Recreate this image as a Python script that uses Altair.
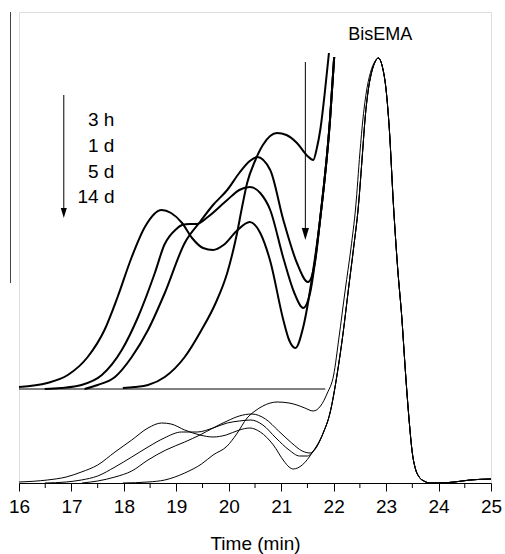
import altair as alt
import pandas as pd

FONT = "Liberation Sans"

# ---------------- lower (full-scale) chromatograms, thin lines ----------------
low_3h_x = [17.98, 18.46, 18.78, 19.16, 19.48, 19.7, 19.97, 20.15, 20.35, 20.5, 20.65, 20.92, 21.15, 21.3, 21.45,
            21.61, 21.75, 21.88, 22.0, 22.1, 22.22, 22.33, 22.42, 22.5, 22.56, 22.63, 22.71, 22.78]
low_3h_y = [0, 1, 3, 10, 19, 28, 37, 49, 65, 72, 77, 81, 80, 78, 75,
            72, 77, 90, 108, 145, 193, 235, 276, 330, 365, 393, 412, 421]

low_1d_x = [17.2, 17.5, 17.83, 18.15, 18.46, 18.8, 19.16, 19.45, 19.7, 19.97, 20.2, 20.44, 20.7, 20.95, 21.2,
            21.4, 21.55, 21.65, 21.8, 21.93]
low_1d_y = [0, 2, 6, 12, 23, 33, 41, 48, 55, 62, 67, 69, 64, 52, 40,
            32, 30, 34, 50, 70]

low_5d_x = [16.49, 16.9, 17.19, 17.5, 17.83, 18.15, 18.46, 18.77, 19.1, 19.4, 19.7, 19.97, 20.2, 20.42, 20.65,
            20.9, 21.15, 21.35, 21.5, 21.6, 21.8, 21.93]
low_5d_y = [0, 1, 3, 7, 16, 26, 36, 45, 51, 51, 55, 60, 62, 63, 58,
            45, 33, 27, 27, 31, 50, 70]

low_14d_x = [16.0, 16.54, 16.9, 17.19, 17.5, 17.83, 18.15, 18.46, 18.72, 18.9, 19.16, 19.45, 19.7, 19.95, 20.2,
             20.4, 20.6, 20.85, 21.05, 21.15, 21.23, 21.4, 21.6, 21.8, 21.93]
low_14d_y = [1, 3, 6, 11, 18, 31, 43, 55, 60, 59, 53, 48, 46, 48, 53,
             55, 51, 38, 22, 16, 14, 18, 31, 50, 70]

# shared rising flank of the BisEMA peak (1 d, 5 d, 14 d)
bis_rise_x = [22.07, 22.18, 22.28, 22.38, 22.47, 22.55, 22.6, 22.66, 22.73, 22.79]
bis_rise_y = [110, 150, 193, 235, 276, 330, 365, 393, 412, 421]

# shared BisEMA apex, falling flank and tail (all four)
bis_fall_x = [22.85, 22.93, 23.0, 23.06, 23.14, 23.22, 23.3, 23.37, 23.44, 23.5, 23.56, 23.63, 23.72, 23.85,
              24.0, 24.3, 24.6, 25.0]
bis_fall_y = [425, 416, 393, 355, 278, 215, 165, 110, 62, 30, 14, 6, 2, 0,
              0, 1, 3, 4]

# ---------------- upper (magnified, offset) traces, thick lines ----------------
up_3h_x = [17.98, 18.2, 18.46, 18.78, 19.16, 19.48, 19.75, 19.97, 20.15, 20.25, 20.35, 20.5, 20.65, 20.92, 21.1,
           21.3, 21.5, 21.61, 21.68, 21.75, 21.83, 21.91]
up_3h_y = [95, 96, 98, 106, 126, 153, 180, 210, 248, 275, 300, 322, 338, 350, 348,
           340, 327, 323, 335, 355, 390, 430]

up_1d_x = [17.25, 17.5, 17.83, 18.15, 18.46, 18.78, 19.16, 19.45, 19.7, 19.97, 20.2, 20.4, 20.54, 20.79, 21.04,
           21.3, 21.51, 21.65, 21.74, 21.93, 22.01]
up_1d_y = [94, 98, 106, 126, 153, 190, 240, 261, 278, 293, 310, 322, 326, 313, 263,
           220, 201, 223, 263, 363, 426]

up_5d_x = [16.49, 16.8, 17.19, 17.58, 17.96, 18.27, 18.59, 18.77, 19.0, 19.11, 19.25, 19.39, 19.6, 19.97, 20.2,
           20.4, 20.6, 20.79, 21.04, 21.25, 21.42, 21.55, 21.74, 21.93, 22.01]
up_5d_y = [94, 95, 98, 108, 133, 166, 210, 238, 254, 258, 259, 259, 266, 283, 293,
           296, 290, 273, 225, 190, 175, 190, 263, 363, 426]

up_14d_x = [16.0, 16.54, 16.93, 17.31, 17.63, 17.88, 18.15, 18.4, 18.72, 18.9, 19.11, 19.3, 19.51, 19.7, 19.9,
            20.15, 20.4, 20.6, 20.79, 21.04, 21.15, 21.27, 21.42, 21.61, 21.74, 21.93, 22.01]
up_14d_y = [96, 100, 108, 126, 153, 186, 226, 256, 273, 270, 260, 245, 235, 233, 238,
            252, 261, 250, 222, 163, 143, 135, 156, 213, 263, 363, 426]

# upper baseline
upper_base_x = [16.0, 21.84]
upper_base_y = [94, 94]

# annotations
time_labels = ["3 h", "1 d", "5 d", "14 d"]
time_label_x = [17.82, 17.82, 17.82, 17.82]
time_label_y = [363, 337, 311, 286]
peak_label = ["BisEMA"]
peak_label_x = [22.89]
peak_label_y = [448]
arrow_x = [16.854, 21.46]
arrow_top = [388, 421]
arrow_tip = [265, 243]
arrow_head_half = [5, 6]
scale_bar_x = [15.838]
scale_bar_y = [200]
scale_bar_y2 = [471]
major_ticks = list(range(16, 26))
minor_ticks = [16.5, 17.5, 18.5, 19.5, 20.5, 21.5, 22.5, 23.5, 24.5]

# ---------------- tables ----------------
def frame(name, xs, ys):
    return pd.DataFrame({"x": xs, "y": ys, "series": name})

lower_df = pd.concat([
    frame("3 h", low_3h_x + bis_fall_x, low_3h_y + bis_fall_y),
    frame("1 d", low_1d_x + bis_rise_x + bis_fall_x, low_1d_y + bis_rise_y + bis_fall_y),
    frame("5 d", low_5d_x + bis_rise_x + bis_fall_x, low_5d_y + bis_rise_y + bis_fall_y),
    frame("14 d", low_14d_x + bis_rise_x + bis_fall_x, low_14d_y + bis_rise_y + bis_fall_y),
], ignore_index=True)

upper_df = pd.concat([
    frame("3 h", up_3h_x, up_3h_y),
    frame("1 d", up_1d_x, up_1d_y),
    frame("5 d", up_5d_x, up_5d_y),
    frame("14 d", up_14d_x, up_14d_y),
], ignore_index=True)

base_df = pd.DataFrame({"x": upper_base_x, "y": upper_base_y})
label_df = pd.DataFrame({"x": time_label_x, "y": time_label_y, "t": time_labels})
peak_df = pd.DataFrame({"x": peak_label_x, "y": peak_label_y, "t": peak_label})
arrow_df = pd.DataFrame({"x": arrow_x, "top": arrow_top, "tip": arrow_tip, "h": arrow_head_half})
arrow_df["stem_end"] = arrow_df["tip"] + arrow_df["h"]
arrow_df["head"] = arrow_df["tip"] + arrow_df["h"]
bar_df = pd.DataFrame({"x": scale_bar_x, "a": scale_bar_y, "b": scale_bar_y2})
minor_df = pd.DataFrame({"x": minor_ticks, "a": [0] * len(minor_ticks), "b": [-5] * len(minor_ticks)})

xs = alt.Scale(domain=[16, 25], nice=False, zero=False)
ys = alt.Scale(domain=[0, 471], nice=False, zero=False)

x_axis = alt.Axis(
    values=major_ticks, format="d", tickSize=8, tickWidth=1, tickColor="black",
    domainColor="black", domainWidth=1, labelColor="black", labelFont=FONT,
    labelFontSize=19, labelPadding=6, labelFlush=False, grid=False,
    title="Time (min)", titleFont=FONT, titleFontSize=19, titleFontWeight="normal",
    titleColor="black", titlePadding=18,
)

lower = alt.Chart(lower_df).mark_line(color="black", strokeWidth=1, interpolate="monotone").encode(
    x=alt.X("x:Q", scale=xs, axis=x_axis),
    y=alt.Y("y:Q", scale=ys, axis=None),
    detail="series:N",
)

upper = alt.Chart(upper_df).mark_line(color="black", strokeWidth=2, interpolate="monotone").encode(
    x=alt.X("x:Q", scale=xs),
    y=alt.Y("y:Q", scale=ys),
    detail="series:N",
)

baseline = alt.Chart(base_df).mark_line(color="black", strokeWidth=1).encode(
    x=alt.X("x:Q", scale=xs), y=alt.Y("y:Q", scale=ys)
)

labels = alt.Chart(label_df).mark_text(font=FONT, fontSize=19, align="right", baseline="middle", color="black").encode(
    x=alt.X("x:Q", scale=xs), y=alt.Y("y:Q", scale=ys), text="t:N"
)

peak_text = alt.Chart(peak_df).mark_text(font=FONT, fontSize=18, align="center", baseline="middle", color="black").encode(
    x=alt.X("x:Q", scale=xs), y=alt.Y("y:Q", scale=ys), text="t:N"
)

stems = alt.Chart(arrow_df).mark_rule(color="black", strokeWidth=1).encode(
    x=alt.X("x:Q", scale=xs), y=alt.Y("top:Q", scale=ys), y2="stem_end:Q"
)

heads = alt.Chart(arrow_df).mark_point(
    shape="M -0.6 -1 L 0.6 -1 L 0 1 Z", filled=True, color="black", opacity=1, strokeWidth=0
).encode(
    x=alt.X("x:Q", scale=xs), y=alt.Y("head:Q", scale=ys),
    size=alt.Size("h:Q", scale=alt.Scale(domain=[5, 6], range=[100, 144]), legend=None),
)

bar = alt.Chart(bar_df).mark_rule(color="#444444", strokeWidth=1, clip=False).encode(
    x=alt.X("x:Q", scale=xs), y=alt.Y("a:Q", scale=ys), y2="b:Q"
)

minor = alt.Chart(minor_df).mark_rule(color="black", strokeWidth=1, clip=False).encode(
    x=alt.X("x:Q", scale=xs), y=alt.Y("a:Q", scale=ys), y2="b:Q"
)

chart = alt.layer(lower, baseline, upper, stems, heads, labels, peak_text, bar, minor).properties(
    width=472, height=471,
    padding={"left": 19, "top": 12, "right": 14, "bottom": 71},
    autosize=alt.AutoSizeParams(type="none"),
).configure_view(stroke="black", strokeWidth=1).configure(background="white")

chart.save("out.html", embed_options={"renderer": "svg", "actions": False})
